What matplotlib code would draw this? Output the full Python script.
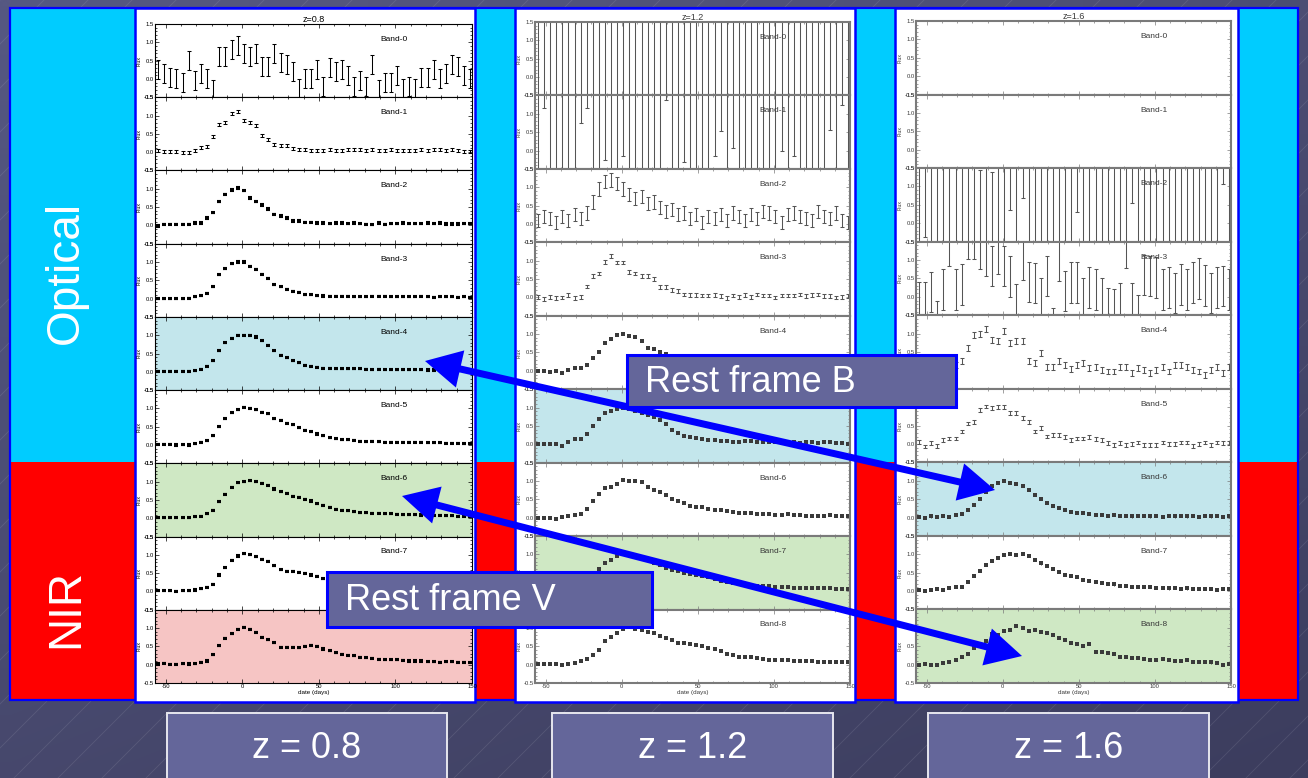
import numpy as np
import matplotlib
matplotlib.use("Agg")
import matplotlib.pyplot as plt
from matplotlib.patches import Rectangle, Polygon
from matplotlib.ticker import MultipleLocator, FixedLocator

plt.rcParams["font.family"] = ["Liberation Sans", "DejaVu Sans"]

# ---------------------------------------------------------------- data
days = [-55, -51, -47, -43, -39, -35, -31, -27, -23, -19, -15, -11, -7,
        -3, 1, 5, 9, 13, 17, 21, 25, 29, 33, 37, 41, 45,
        49, 53, 57, 61, 65, 69, 73, 77, 81, 85, 89, 93, 97,
        101, 105, 109, 113, 117, 121, 125, 129, 133, 137, 141, 145, 149]

redshifts = ["z=0.8", "z=1.2", "z=1.6"]
band_names = [f"Band-{k}" for k in range(9)]

# z = 0.8
z08_b0 = [0.25, 0.15, 0.05, 0.00, -0.10, 0.50, -0.05, 0.15, 0.00, -0.30, 0.60, 0.60, 0.80,
          0.90, 0.70, 0.60, 0.70, 0.35, 0.35, 0.70, 0.45, 0.40, 0.20, -0.25, 0.00, 0.00,
          0.25, -0.20, 0.30, 0.20, 0.25, 0.10, -0.20, -0.05, -0.20, 0.40, -0.30, -0.10, -0.10,
          0.10, -0.25, -0.20, -0.25, 0.05, 0.05, 0.25, 0.00, 0.15, 0.40, 0.35, 0.10, 0.00]
z08_b1 = [0.05, 0.03, 0.03, 0.03, 0.00, 0.00, 0.05, 0.12, 0.15, 0.43, 0.75, 0.80, 1.05,
          1.12, 0.87, 0.80, 0.72, 0.45, 0.35, 0.22, 0.18, 0.18, 0.10, 0.08, 0.07, 0.04,
          0.04, 0.05, 0.06, 0.05, 0.04, 0.07, 0.08, 0.07, 0.05, 0.06, 0.05, 0.04, 0.08,
          0.04, 0.04, 0.05, 0.04, 0.08, 0.05, 0.07, 0.07, 0.05, 0.06, 0.04, 0.03, 0.03]
z08_b2 = [-0.02, 0.03, 0.03, 0.03, 0.03, 0.03, 0.06, 0.07, 0.20, 0.35, 0.65, 0.85, 0.97,
          1.02, 0.95, 0.75, 0.65, 0.55, 0.45, 0.30, 0.25, 0.20, 0.12, 0.12, 0.08, 0.08,
          0.07, 0.06, 0.05, 0.06, 0.07, 0.05, 0.06, 0.05, 0.03, 0.02, 0.07, 0.03, 0.05,
          0.05, 0.07, 0.05, 0.05, 0.05, 0.06, 0.05, 0.06, 0.04, 0.04, 0.04, 0.05, 0.05]
z08_b3 = [0.00, 0.00, 0.00, -0.01, 0.00, 0.01, 0.05, 0.08, 0.15, 0.32, 0.65, 0.82, 0.95,
          1.00, 1.00, 0.88, 0.80, 0.67, 0.55, 0.38, 0.32, 0.25, 0.20, 0.17, 0.10, 0.10,
          0.08, 0.07, 0.06, 0.06, 0.06, 0.06, 0.05, 0.05, 0.05, 0.06, 0.06, 0.06, 0.05,
          0.05, 0.05, 0.05, 0.05, 0.06, 0.05, 0.03, 0.05, 0.05, 0.05, 0.04, 0.05, 0.04]
z08_b4 = [0.02, 0.02, 0.02, 0.02, 0.01, 0.02, 0.03, 0.07, 0.15, 0.30, 0.58, 0.80, 0.92,
          1.00, 1.00, 1.00, 0.95, 0.85, 0.72, 0.58, 0.45, 0.38, 0.30, 0.25, 0.18, 0.15,
          0.12, 0.10, 0.10, 0.09, 0.08, 0.08, 0.08, 0.08, 0.07, 0.06, 0.07, 0.06, 0.06,
          0.06, 0.06, 0.06, 0.06, 0.06, 0.05, 0.05, 0.06, 0.06, 0.06, 0.05, 0.05, 0.05]
z08_b5 = [0.02, 0.02, 0.02, 0.00, 0.01, 0.00, 0.03, 0.08, 0.12, 0.25, 0.50, 0.72, 0.88,
          0.97, 1.03, 1.00, 0.97, 0.90, 0.85, 0.72, 0.68, 0.60, 0.55, 0.47, 0.40, 0.36,
          0.30, 0.25, 0.20, 0.17, 0.15, 0.14, 0.13, 0.10, 0.09, 0.10, 0.09, 0.08, 0.08,
          0.08, 0.07, 0.07, 0.07, 0.07, 0.06, 0.06, 0.06, 0.05, 0.05, 0.05, 0.04, 0.04]
z08_b6 = [0.02, 0.02, 0.02, 0.02, 0.02, 0.01, 0.04, 0.06, 0.12, 0.22, 0.45, 0.65, 0.85,
          0.97, 1.00, 1.03, 1.00, 0.95, 0.90, 0.80, 0.72, 0.68, 0.60, 0.57, 0.52, 0.47,
          0.40, 0.35, 0.30, 0.25, 0.22, 0.20, 0.18, 0.15, 0.15, 0.13, 0.13, 0.12, 0.12,
          0.11, 0.10, 0.10, 0.10, 0.09, 0.09, 0.08, 0.08, 0.07, 0.07, 0.06, 0.06, 0.05]
z08_b7 = [0.02, 0.02, 0.02, 0.00, 0.02, 0.02, 0.04, 0.07, 0.12, 0.20, 0.45, 0.65, 0.85,
          0.97, 1.03, 1.00, 0.95, 0.88, 0.82, 0.70, 0.60, 0.55, 0.55, 0.52, 0.50, 0.45,
          0.42, 0.35, 0.30, 0.30, 0.28, 0.25, 0.22, 0.20, 0.18, 0.17, 0.15, 0.14, 0.13,
          0.12, 0.12, 0.11, 0.10, 0.10, 0.10, 0.09, 0.09, 0.08, 0.08, 0.08, 0.07, 0.07]
z08_b8 = [0.02, 0.04, 0.01, 0.01, 0.03, 0.02, 0.03, 0.07, 0.10, 0.27, 0.52, 0.72, 0.85,
          0.97, 1.02, 0.97, 0.88, 0.75, 0.68, 0.60, 0.48, 0.47, 0.48, 0.46, 0.50, 0.53,
          0.50, 0.43, 0.38, 0.33, 0.28, 0.26, 0.25, 0.20, 0.19, 0.17, 0.15, 0.13, 0.14,
          0.13, 0.12, 0.10, 0.10, 0.10, 0.08, 0.08, 0.07, 0.08, 0.08, 0.07, 0.06, 0.05]
z08_err = [0.26, 0.04, 0.02, 0.015, 0.015, 0.015, 0.015, 0.015, 0.015]

# z = 1.2
z12_b0 = [0.4, -0.6, 0.9, 0.2, 1.3, -0.2, 0.7, 0.1, 1.1, -0.8, 0.5, 0.3, 1.6,
          -0.4, 0.8, 0.0, 1.2, 0.6, -1.0, 0.3, 0.9, 1.4, -0.3, 0.2, 0.7, 1.0,
          -0.5, 0.4, 1.5, 0.1, -0.7, 0.6, 1.1, 0.3, -0.2, 0.8, 1.3, 0.0, 0.5,
          -0.9, 0.2, 1.0, 0.6, -0.3, 0.9, 0.4, 1.2, -0.6, 0.7, 0.1, 1.4, 0.3]
z12_b1 = [0.5, 2.95, 0.4, 0.8, 0.6, 0.3, 0.7, 2.54, 2.97, 0.5, 0.9, 1.53, 0.4,
          0.6, 1.65, 0.2, 0.8, 0.5, 0.3, 0.7, 0.6, 3.17, 0.4, 0.9, 1.48, 0.5,
          0.2, 0.7, 0.4, 1.65, 2.33, 0.6, 1.87, 0.3, 0.8, 0.5, 0.9, 0.4, 0.6,
          0.2, 1.80, 0.7, 1.65, 0.5, 0.3, 0.8, 0.6, 0.4, 2.37, 0.7, 3.03, 0.5]
z12_b2 = [0.10, 0.20, 0.15, 0.05, 0.20, 0.10, 0.25, 0.15, 0.30, 0.60, 0.95, 1.15, 1.20,
          1.10, 0.95, 0.80, 0.70, 0.75, 0.55, 0.60, 0.45, 0.35, 0.40, 0.25, 0.30, 0.15,
          0.25, 0.05, 0.20, 0.15, 0.25, 0.10, 0.30, 0.20, 0.10, 0.25, 0.15, 0.35, 0.30,
          0.20, 0.05, 0.25, 0.30, 0.20, 0.15, 0.10, 0.35, 0.20, 0.15, 0.30, 0.10, 0.05]
z12_b3 = [0.02, -0.05, 0.02, -0.02, 0.00, 0.07, -0.02, 0.02, 0.30, 0.58, 0.65, 0.97, 1.12,
          0.95, 0.95, 0.70, 0.65, 0.58, 0.58, 0.50, 0.28, 0.28, 0.20, 0.18, 0.08, 0.07,
          0.07, 0.05, 0.05, 0.07, 0.03, -0.02, 0.05, 0.02, 0.07, 0.02, 0.08, 0.05, 0.05,
          0.00, 0.05, 0.05, 0.05, 0.08, 0.03, 0.07, 0.08, 0.03, 0.03, 0.00, 0.02, 0.03]
z12_b4 = [0.00, 0.00, -0.03, 0.00, -0.05, 0.03, 0.07, 0.07, 0.15, 0.35, 0.50, 0.75, 0.88,
          0.97, 1.00, 0.95, 0.92, 0.80, 0.62, 0.60, 0.50, 0.45, 0.38, 0.30, 0.25, 0.20,
          0.15, 0.12, 0.10, 0.10, 0.08, 0.08, 0.07, 0.06, 0.07, 0.05, 0.06, 0.05, 0.05,
          0.06, 0.04, 0.05, 0.05, 0.04, 0.05, 0.04, 0.05, 0.04, 0.05, 0.04, 0.03, 0.04]
z12_b5 = [0.00, 0.00, 0.00, 0.00, -0.05, 0.05, 0.15, 0.15, 0.27, 0.50, 0.70, 0.85, 0.92,
          0.97, 1.00, 0.95, 0.92, 0.85, 0.80, 0.75, 0.65, 0.55, 0.40, 0.30, 0.22, 0.20,
          0.17, 0.15, 0.12, 0.12, 0.10, 0.10, 0.07, 0.05, 0.08, 0.08, 0.07, 0.05, 0.05,
          0.05, 0.03, 0.05, 0.05, 0.03, 0.05, 0.05, 0.03, 0.05, 0.05, 0.03, 0.03, 0.02]
z12_b6 = [0.00, 0.00, 0.00, -0.03, 0.03, 0.05, 0.07, 0.10, 0.25, 0.45, 0.65, 0.82, 0.85,
          0.92, 1.03, 1.00, 1.00, 0.97, 0.85, 0.75, 0.70, 0.62, 0.50, 0.45, 0.40, 0.32,
          0.30, 0.28, 0.25, 0.20, 0.20, 0.18, 0.15, 0.12, 0.12, 0.13, 0.10, 0.10, 0.10,
          0.08, 0.08, 0.10, 0.08, 0.07, 0.05, 0.05, 0.05, 0.05, 0.07, 0.05, 0.05, 0.05]
z12_b7 = [0.02, 0.02, 0.00, 0.02, 0.00, 0.05, 0.08, 0.12, 0.22, 0.40, 0.60, 0.78, 0.85,
          0.95, 1.00, 1.00, 0.97, 0.92, 0.85, 0.78, 0.70, 0.62, 0.57, 0.55, 0.50, 0.47,
          0.45, 0.42, 0.38, 0.33, 0.28, 0.25, 0.22, 0.20, 0.18, 0.17, 0.15, 0.14, 0.13,
          0.12, 0.12, 0.11, 0.10, 0.10, 0.10, 0.09, 0.08, 0.08, 0.08, 0.07, 0.07, 0.07]
z12_b8 = [0.02, 0.02, 0.02, 0.01, 0.00, 0.03, 0.05, 0.10, 0.15, 0.25, 0.40, 0.65, 0.75,
          0.85, 0.97, 1.02, 0.97, 0.95, 0.90, 0.85, 0.77, 0.73, 0.68, 0.60, 0.58, 0.55,
          0.53, 0.50, 0.45, 0.42, 0.38, 0.30, 0.27, 0.22, 0.20, 0.20, 0.18, 0.15, 0.13,
          0.13, 0.12, 0.12, 0.11, 0.10, 0.10, 0.09, 0.08, 0.08, 0.08, 0.08, 0.07, 0.08]
z12_err = [3.0, 1.8, 0.18, 0.05, 0.02, 0.02, 0.02, 0.02, 0.02]

# z = 1.6 (bands 0 and 1 carry no usable points)
z16_b0 = []
z16_b1 = []
z16_b2 = [0.5, 1.64, 0.3, 0.8, 0.6, 0.2, 0.7, 0.4, 0.9, 0.5, -0.55, 0.3, -0.60,
          0.8, 0.5, 2.36, 0.6, 2.70, 0.4, 0.9, 0.2, 0.7, 0.5, 0.3, 0.8, 0.6,
          2.30, 0.4, 0.9, 0.2, 0.7, 0.5, 0.3, 0.8, 0.6, 2.55, 0.4, 0.9, 0.2,
          0.7, 0.5, 0.3, 0.8, 0.6, 0.4, 0.9, 0.2, 0.7, 0.5, 0.3, 3.07, 0.6]
z16_b3 = [-0.15, -0.15, 0.13, -0.67, 0.20, 1.39, 0.20, 0.34, 1.57, 1.57, 1.30, 1.11, 0.84,
          1.16, 0.84, 0.55, -0.21, 1.02, 0.40, 0.38, -0.03, 0.57, -0.85, 0.98, 0.16, 0.39,
          0.39, -0.03, 0.25, 0.20, -0.03, -0.30, -0.35, -0.17, 1.34, -0.17, -0.51, 0.59, 0.57,
          0.52, 0.20, 0.25, 0.10, 0.34, 0.20, 0.39, 0.50, 0.31, 0.11, 0.25, 0.30, 0.20]
z16_b4 = [0.05, 0.00, 0.10, 0.00, 0.05, 0.10, 0.15, 0.25, 0.60, 0.97, 1.00, 1.12, 0.83,
          0.80, 1.06, 0.75, 0.80, 0.80, 0.25, 0.20, 0.47, 0.10, 0.10, 0.25, 0.15, 0.03,
          0.15, 0.20, 0.06, 0.10, 0.02, -0.03, -0.03, 0.10, 0.10, -0.07, 0.06, 0.02, -0.07,
          0.02, 0.10, -0.03, 0.15, 0.15, 0.10, 0.02, -0.03, -0.12, 0.02, 0.10, -0.07, 0.10]
z16_b5 = [0.06, -0.07, 0.02, -0.05, 0.11, 0.15, 0.15, 0.34, 0.56, 0.60, 0.93, 1.02, 0.97,
          1.00, 1.00, 0.84, 0.85, 0.70, 0.60, 0.34, 0.43, 0.20, 0.25, 0.25, 0.18, 0.11,
          0.15, 0.15, 0.18, 0.13, 0.11, 0.02, -0.03, 0.02, -0.03, 0.00, 0.04, -0.03, -0.03,
          -0.03, 0.04, 0.00, 0.00, 0.04, 0.04, -0.05, 0.00, 0.04, -0.03, 0.04, 0.02, 0.02]
z16_b6 = [0.02, 0.00, 0.03, 0.02, 0.05, 0.02, 0.08, 0.10, 0.20, 0.35, 0.50, 0.70, 0.85,
          0.95, 1.00, 0.95, 0.92, 0.85, 0.75, 0.62, 0.50, 0.40, 0.32, 0.25, 0.20, 0.15,
          0.12, 0.12, 0.10, 0.08, 0.08, 0.05, 0.07, 0.05, 0.05, 0.03, 0.05, 0.05, 0.03,
          0.05, 0.02, 0.05, 0.03, 0.05, 0.03, 0.05, 0.02, 0.04, 0.03, 0.05, 0.02, 0.03]
z16_b7 = [0.02, 0.00, 0.03, 0.05, 0.02, 0.08, 0.10, 0.12, 0.25, 0.40, 0.55, 0.70, 0.82,
          0.90, 0.97, 1.00, 0.97, 1.02, 0.95, 0.85, 0.75, 0.68, 0.60, 0.52, 0.45, 0.42,
          0.38, 0.30, 0.28, 0.25, 0.22, 0.20, 0.18, 0.15, 0.15, 0.12, 0.10, 0.10, 0.10,
          0.08, 0.08, 0.07, 0.08, 0.05, 0.07, 0.06, 0.05, 0.05, 0.06, 0.04, 0.05, 0.05]
z16_b8 = [0.00, 0.03, -0.02, 0.00, 0.05, 0.07, 0.12, 0.20, 0.30, 0.45, 0.55, 0.65, 0.82,
          0.80, 0.92, 0.95, 1.05, 1.00, 0.92, 0.95, 0.88, 0.85, 0.80, 0.72, 0.68, 0.60,
          0.55, 0.50, 0.55, 0.35, 0.35, 0.32, 0.28, 0.22, 0.20, 0.18, 0.17, 0.15, 0.12,
          0.12, 0.15, 0.12, 0.10, 0.10, 0.12, 0.08, 0.08, 0.08, 0.06, 0.05, 0.00, 0.02]
z16_err = [2.0, 2.0, 2.0, 0.55, 0.08, 0.05, 0.03, 0.03, 0.03]

z08 = [z08_b0, z08_b1, z08_b2, z08_b3, z08_b4, z08_b5, z08_b6, z08_b7, z08_b8]
z12 = [z12_b0, z12_b1, z12_b2, z12_b3, z12_b4, z12_b5, z12_b6, z12_b7, z12_b8]
z16 = [z16_b0, z16_b1, z16_b2, z16_b3, z16_b4, z16_b5, z16_b6, z16_b7, z16_b8]

# which band sits at rest-frame B (blue) and V (green), plus the z=0.8 NIR extra
shades_08 = {4: "#C3E6EC", 6: "#CFE8C4", 8: "#F6C5C4"}
shades_12 = {5: "#C3E6EC", 7: "#CFE8C4"}
shades_16 = {6: "#C3E6EC", 8: "#CFE8C4"}

# ---------------------------------------------------------------- layout
W, H = 1308, 778
fig = plt.figure(figsize=(W / 100, H / 100), dpi=100)
fig.patch.set_facecolor("#4A4C72")


def px_axes(x0, y0, x1, y1, **kw):
    return fig.add_axes([x0 / W, 1 - y1 / H, (x1 - x0) / W, (y1 - y0) / H], **kw)


# slide background with faint diagonal hatching
bg = px_axes(0, 0, W, H, zorder=-10)
bg.set_xlim(0, W)
bg.set_ylim(H, 0)
bg.axis("off")
gy, gx = np.mgrid[0:1:60j, 0:1:60j]
t = (gx * 0.4 + gy * 0.6)
c0 = np.array([86, 88, 130]) / 255
c1 = np.array([60, 61, 94]) / 255
grad = c0[None, None, :] * (1 - t[..., None]) + c1[None, None, :] * t[..., None]
bg.imshow(grad, extent=[0, W, H, 0], aspect="auto", interpolation="bilinear", zorder=0)
for x0 in range(-H, W + 40, 44):
    bg.plot([x0, x0 + H], [H, 0], color="white", alpha=0.10, lw=0.6, zorder=1)

# optical / NIR backdrop
bg.add_patch(Rectangle((10, 8), 1288, 454, fc="#00CCFF", ec="none", zorder=2))
bg.add_patch(Rectangle((10, 462), 1288, 238, fc="#FF0000", ec="none", zorder=2))
bg.add_patch(Rectangle((10, 8), 1288, 692, fill=False, ec="#0000FF", lw=1.6, zorder=3))
bg.text(66, 272, "Optical", rotation=90, color="white", fontsize=33,
        ha="center", va="center", zorder=4)
bg.text(66, 608, "NIR", rotation=90, color="white", fontsize=33,
        ha="center", va="center", zorder=4)

panels = [
    dict(title=redshifts[0], sheet=(135, 8, 475, 702), box=(155, 24, 472, 683),
         fluxes=z08, errs=z08_err, shades=shades_08,
         kinds=["bars", "bars"] + ["dash"] * 7, ink="black", bar_ink="black",
         frame="black", frame_lw=0.8),
    dict(title=redshifts[1], sheet=(515, 8, 855, 702), box=(535, 22, 850, 683),
         fluxes=z12, errs=z12_err, shades=shades_12,
         kinds=["bars"] * 4 + ["dot"] * 5, ink="#3A3A3A", bar_ink="#555555",
         frame="#7A7A7A", frame_lw=1.5),
    dict(title=redshifts[2], sheet=(895, 8, 1238, 702), box=(916, 21, 1231, 683),
         fluxes=z16, errs=z16_err, shades=shades_16,
         kinds=["bars"] * 6 + ["dot"] * 3, ink="#3A3A3A", bar_ink="#555555",
         frame="#7A7A7A", frame_lw=1.5),
]

for p in panels:
    sx0, sy0, sx1, sy1 = p["sheet"]
    bg.add_patch(Rectangle((sx0, sy0), sx1 - sx0, sy1 - sy0, fc="white",
                           ec="#0000FF", lw=1.8, zorder=5))
    bx0, by0, bx1, by1 = p["box"]
    h = (by1 - by0) / 9
    for k in range(9):
        ax = px_axes(bx0, by0 + k * h, bx1, by0 + (k + 1) * h, zorder=1)
        ax.set_facecolor(p["shades"].get(k, "white"))
        ax.set_xlim(-57, 150)
        ax.set_ylim(-0.5, 1.5)
        flux = p["fluxes"][k]
        err = p["errs"][k]
        kind = p["kinds"][k]
        ink = p["ink"]
        if len(flux):
            if kind == "bars":
                ax.errorbar(days, flux, yerr=err, fmt="none", ecolor=p["bar_ink"],
                            elinewidth=0.75, capsize=1.6, capthick=0.75)
            elif kind == "dash":
                ax.errorbar(days, flux, yerr=err, fmt="_", color=ink, ms=2.8,
                            mew=1.5, elinewidth=0.5, capsize=1.1, capthick=0.5)
            else:
                ax.errorbar(days, flux, yerr=err, fmt="s", color=ink, ms=2.7,
                            mew=0, elinewidth=0.6, capsize=1.0, capthick=0.6)
        ax.text(0.755, 0.79, band_names[k], transform=ax.transAxes, fontsize=6,
                ha="center", va="center", color=ink)
        ax.xaxis.set_major_locator(FixedLocator([-50, 0, 50, 100, 150]))
        ax.xaxis.set_minor_locator(MultipleLocator(10))
        ax.yaxis.set_major_locator(FixedLocator([-0.5, 0.0, 0.5, 1.0, 1.5]))
        ax.yaxis.set_minor_locator(MultipleLocator(0.1))
        ax.tick_params(which="both", direction="in", top=True, right=True,
                       width=0.5, colors=p["frame"], labelcolor=ink,
                       labelsize=4.2, pad=1)
        ax.tick_params(which="major", length=2.6)
        ax.tick_params(which="minor", length=1.2)
        ax.set_yticklabels(["-0.5", "0.0", "0.5", "1.0", "1.5"])
        ax.set_ylabel("Flux", fontsize=3.8, labelpad=1, color=ink)
        for s in ax.spines.values():
            s.set_color(p["frame"])
            s.set_linewidth(p["frame_lw"])
        if k == 0:
            ax.set_title(p["title"], fontsize=6.5, pad=1.5, color=ink)
        if k == 8:
            ax.set_xticklabels(["-50", "0", "50", "100", "150"])
            ax.set_xlabel("date (days)", fontsize=4.5, labelpad=0.5, color=ink)
        else:
            ax.set_xticklabels([])

# ---------------------------------------------------------------- overlay
ov = px_axes(0, 0, W, H, zorder=10)
ov.set_xlim(0, W)
ov.set_ylim(H, 0)
ov.axis("off")
ov.patch.set_alpha(0)

BLUE = "#0000FF"
BOX = "#64669A"


def double_arrow(a, b, head_len=36, head_half=19, width_px=7):
    a = np.asarray(a, float)
    b = np.asarray(b, float)
    u = (b - a) / np.hypot(*(b - a))
    n = np.array([-u[1], u[0]])
    sa = a + u * head_len * 0.9
    sb = b - u * head_len * 0.9
    ov.plot([sa[0], sb[0]], [sa[1], sb[1]], color=BLUE, lw=width_px * 0.72,
            solid_capstyle="butt", zorder=1)
    for tip, d in ((a, u), (b, -u)):
        base = tip + d * head_len
        ov.add_patch(Polygon([tip, base + n * head_half, base - n * head_half],
                             closed=True, fc=BLUE, ec="none", zorder=1))


double_arrow((425, 361), (995, 490))
double_arrow((402, 496), (1022, 656))

ov.add_patch(Rectangle((627, 355), 329, 52, fc=BOX, ec=BLUE, lw=2.2, zorder=2))
ov.text(645, 382, "Rest frame B", color="white", fontsize=26, ha="left",
        va="center", zorder=3)
ov.add_patch(Rectangle((327, 572), 325, 55, fc=BOX, ec=BLUE, lw=2.2, zorder=2))
ov.text(345, 601, "Rest frame V", color="white", fontsize=26, ha="left",
        va="center", zorder=3)

for (x0, x1), label in zip([(167, 447), (552, 833), (928, 1209)],
                           ["z = 0.8", "z = 1.2", "z = 1.6"]):
    ov.add_patch(Rectangle((x0, 713), x1 - x0, 80, fc=BOX, ec="#E6E6EE",
                           lw=1.4, zorder=2))
    ov.text((x0 + x1) / 2, 748, label, color="white", fontsize=26,
            ha="center", va="center", zorder=3)

fig.savefig("out.png", dpi=100, facecolor=fig.get_facecolor())
